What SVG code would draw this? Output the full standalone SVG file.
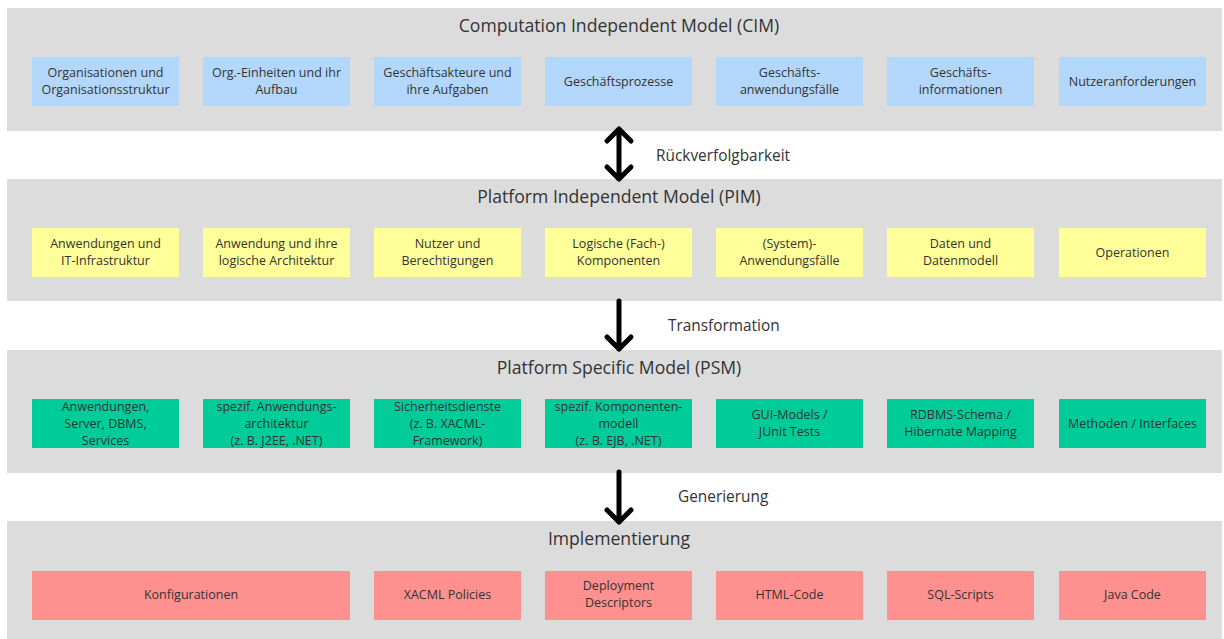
<svg xmlns="http://www.w3.org/2000/svg" width="1224" height="639" viewBox="0 0 1224 639">
  <style>
    .band { fill: #dcdcdc; }
    .title { font-family: "Open Sans", "Noto Sans", sans-serif; font-size: 17.6px; fill: #333; text-anchor: middle; }
    .lbl { font-family: "Open Sans", "Noto Sans", sans-serif; font-size: 15.4px; fill: #333; }
    .t { font-family: "Open Sans", "Noto Sans", sans-serif; font-size: 12.5px; fill: #333; text-anchor: middle; }
    .cim { fill: #b3d7fa; }
    .pim { fill: #ffff99; }
    .psm { fill: #00cc99; }
    .imp { fill: #ff9090; }
    .arrow { stroke: #000; stroke-width: 5; fill: none; stroke-linecap: round; stroke-linejoin: round; }
  </style>

  <!-- layer bands -->
  <g id="band-cim">
    <rect class="band" x="7" y="8" width="1215" height="123"/>
    <text class="title" x="619" y="32">Computation Independent Model (CIM)</text>
  </g>
  <g id="band-pim">
    <rect class="band" x="7" y="179" width="1215" height="122"/>
    <text class="title" x="619" y="203">Platform Independent Model (PIM)</text>
  </g>
  <g id="band-psm">
    <rect class="band" x="7" y="350" width="1215" height="123"/>
    <text class="title" x="619" y="374">Platform Specific Model (PSM)</text>
  </g>
  <g id="band-impl">
    <rect class="band" x="7" y="521" width="1215" height="118"/>
    <text class="title" x="619" y="545">Implementierung</text>
  </g>

  <!-- CIM nodes -->
  <g id="cim-1"><rect class="cim" x="32" y="57" width="147" height="49"/><text class="t" x="105.5" y="77">Organisationen und</text><text class="t" x="105.5" y="94">Organisationsstruktur</text></g>
  <g id="cim-2"><rect class="cim" x="203" y="57" width="147" height="49"/><text class="t" x="276.5" y="77">Org.-Einheiten und ihr</text><text class="t" x="276.5" y="94">Aufbau</text></g>
  <g id="cim-3"><rect class="cim" x="374" y="57" width="147" height="49"/><text class="t" x="447.5" y="77">Geschäftsakteure und</text><text class="t" x="447.5" y="94">ihre Aufgaben</text></g>
  <g id="cim-4"><rect class="cim" x="545" y="57" width="147" height="49"/><text class="t" x="618.5" y="86">Geschäftsprozesse</text></g>
  <g id="cim-5"><rect class="cim" x="716" y="57" width="147" height="49"/><text class="t" x="789.5" y="77">Geschäfts-</text><text class="t" x="789.5" y="94">anwendungsfälle</text></g>
  <g id="cim-6"><rect class="cim" x="887" y="57" width="147" height="49"/><text class="t" x="960.5" y="77">Geschäfts-</text><text class="t" x="960.5" y="94">informationen</text></g>
  <g id="cim-7"><rect class="cim" x="1059" y="57" width="147" height="49"/><text class="t" x="1132.5" y="86">Nutzeranforderungen</text></g>

  <!-- PIM nodes -->
  <g id="pim-1"><rect class="pim" x="32" y="228" width="147" height="49"/><text class="t" x="105.5" y="248">Anwendungen und</text><text class="t" x="105.5" y="265">IT-Infrastruktur</text></g>
  <g id="pim-2"><rect class="pim" x="203" y="228" width="147" height="49"/><text class="t" x="276.5" y="248">Anwendung und ihre</text><text class="t" x="276.5" y="265">logische Architektur</text></g>
  <g id="pim-3"><rect class="pim" x="374" y="228" width="147" height="49"/><text class="t" x="447.5" y="248">Nutzer und</text><text class="t" x="447.5" y="265">Berechtigungen</text></g>
  <g id="pim-4"><rect class="pim" x="545" y="228" width="147" height="49"/><text class="t" x="618.5" y="248">Logische (Fach-)</text><text class="t" x="618.5" y="265">Komponenten</text></g>
  <g id="pim-5"><rect class="pim" x="716" y="228" width="147" height="49"/><text class="t" x="789.5" y="248">(System)-</text><text class="t" x="789.5" y="265">Anwendungsfälle</text></g>
  <g id="pim-6"><rect class="pim" x="887" y="228" width="147" height="49"/><text class="t" x="960.5" y="248">Daten und</text><text class="t" x="960.5" y="265">Datenmodell</text></g>
  <g id="pim-7"><rect class="pim" x="1059" y="228" width="147" height="49"/><text class="t" x="1132.5" y="257">Operationen</text></g>

  <!-- PSM nodes -->
  <g id="psm-1"><rect class="psm" x="32" y="399" width="147" height="49"/><text class="t" x="105.5" y="411">Anwendungen,</text><text class="t" x="105.5" y="428">Server, DBMS,</text><text class="t" x="105.5" y="445">Services</text></g>
  <g id="psm-2"><rect class="psm" x="203" y="399" width="147" height="49"/><text class="t" x="276.5" y="411">spezif. Anwendungs-</text><text class="t" x="276.5" y="428">architektur</text><text class="t" x="276.5" y="445">(z. B. J2EE, .NET)</text></g>
  <g id="psm-3"><rect class="psm" x="374" y="399" width="147" height="49"/><text class="t" x="447.5" y="411">Sicherheitsdienste</text><text class="t" x="447.5" y="428">(z. B. XACML-</text><text class="t" x="447.5" y="445">Framework)</text></g>
  <g id="psm-4"><rect class="psm" x="545" y="399" width="147" height="49"/><text class="t" x="618.5" y="411">spezif. Komponenten-</text><text class="t" x="618.5" y="428">modell</text><text class="t" x="618.5" y="445">(z. B. EJB, .NET)</text></g>
  <g id="psm-5"><rect class="psm" x="716" y="399" width="147" height="49"/><text class="t" x="789.5" y="419">GUI-Models /</text><text class="t" x="789.5" y="436">JUnit Tests</text></g>
  <g id="psm-6"><rect class="psm" x="887" y="399" width="147" height="49"/><text class="t" x="960.5" y="419">RDBMS-Schema /</text><text class="t" x="960.5" y="436">Hibernate Mapping</text></g>
  <g id="psm-7"><rect class="psm" x="1059" y="399" width="147" height="49"/><text class="t" x="1132.5" y="428">Methoden / Interfaces</text></g>

  <!-- Implementation nodes -->
  <g id="imp-1"><rect class="imp" x="32" y="571" width="318" height="49"/><text class="t" x="191" y="599">Konfigurationen</text></g>
  <g id="imp-2"><rect class="imp" x="374" y="571" width="147" height="49"/><text class="t" x="447.5" y="599">XACML Policies</text></g>
  <g id="imp-3"><rect class="imp" x="545" y="571" width="147" height="49"/><text class="t" x="618.5" y="590">Deployment</text><text class="t" x="618.5" y="607">Descriptors</text></g>
  <g id="imp-4"><rect class="imp" x="716" y="571" width="147" height="49"/><text class="t" x="789.5" y="599">HTML-Code</text></g>
  <g id="imp-5"><rect class="imp" x="887" y="571" width="147" height="49"/><text class="t" x="960.5" y="599">SQL-Scripts</text></g>
  <g id="imp-6"><rect class="imp" x="1059" y="571" width="147" height="49"/><text class="t" x="1132.5" y="599">Java Code</text></g>

  <!-- connectors between layers -->
  <g id="connectors">
    <path class="arrow" d="M619 130 L619 178 M607 141 L619 129 L631 141 M607 167 L619 179 L631 167"/>
    <path class="arrow" d="M619 301 L619 349 M607 337 L619 349 L631 337"/>
    <path class="arrow" d="M619 472 L619 522 M607 510 L619 522 L631 510"/>
    <text class="lbl" x="656" y="161">Rückverfolgbarkeit</text>
    <text class="lbl" x="668" y="331">Transformation</text>
    <text class="lbl" x="678" y="502">Generierung</text>
  </g>
</svg>
